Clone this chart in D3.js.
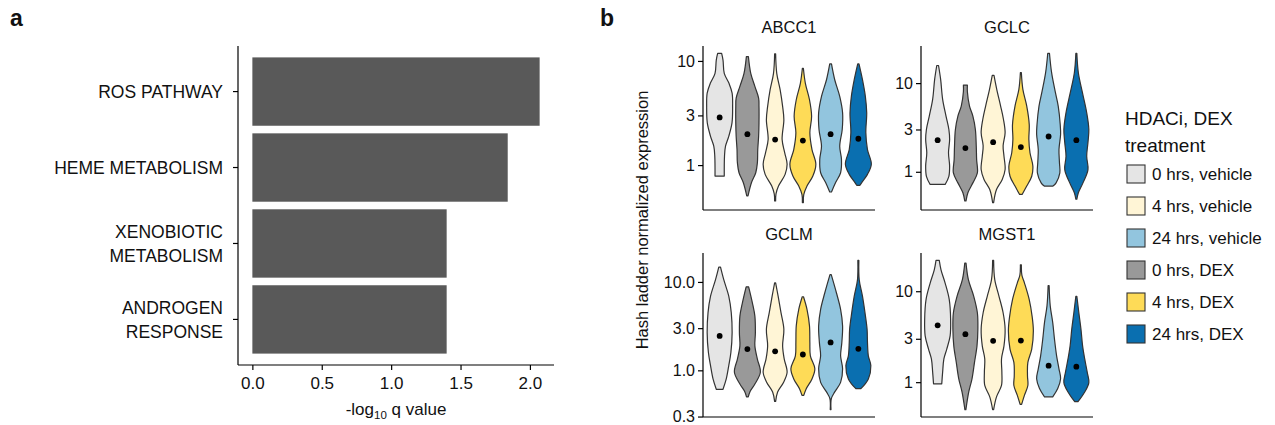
<!DOCTYPE html>
<html>
<head>
<meta charset="utf-8">
<script src="https://cdn.jsdelivr.net/npm/d3@7"></script>
<style>
  html, body { margin: 0; padding: 0; background: #fff; }
  text { font-family: "Liberation Sans", Arial, Helvetica, sans-serif; fill: #111; }
</style>
</head>
<body>
<script>
// ---------------- DATA ----------------
// Panel a
const pathwayLabels = [["ROS PATHWAY"], ["HEME METABOLISM"], ["XENOBIOTIC", "METABOLISM"], ["ANDROGEN", "RESPONSE"]];
const pathways = ["ROS PATHWAY", "HEME METABOLISM", "XENOBIOTIC METABOLISM", "ANDROGEN RESPONSE"];
const negLog10Q = [2.07, 1.84, 1.40, 1.40];
const xTicksA = [0, 0.5, 1.0, 1.5, 2.0];
const xTickLabelsA = ["0.0", "0.5", "1.0", "1.5", "2.0"];

// Panel b
const genes = ["ABCC1", "GCLC", "GCLM", "MGST1"];
const treatments = ["0 hrs, vehicle", "0 hrs, DEX", "4 hrs, vehicle", "4 hrs, DEX", "24 hrs, vehicle", "24 hrs, DEX"];
const treatmentColors = ["#e5e5e5", "#999999", "#fff5d6", "#fedb57", "#92c5de", "#0a6fb0"];
const legendOrder = ["0 hrs, vehicle", "4 hrs, vehicle", "24 hrs, vehicle", "0 hrs, DEX", "4 hrs, DEX", "24 hrs, DEX"];

// violin profiles: [expression value, relative half-width], top to bottom
const abcc1Violins = [
  [[11.8,0.16],[10.2,0.27],[7.6,0.37],[6.1,0.75],[4.9,1.0],[3.66,1.04],[2.54,0.99],[1.89,0.73],[1.52,0.47],[1.22,0.39],[0.785,0.37]],
  [[11.0,0.08],[7.6,0.27],[5.7,0.6],[4.4,0.9],[3.66,0.93],[2.54,0.93],[1.89,0.9],[1.41,0.83],[1.05,0.8],[0.845,0.67],[0.68,0.33],[0.506,0.05]],
  [[11.7,0.04],[7.6,0.13],[5.3,0.4],[3.66,0.6],[2.73,0.7],[1.76,0.56],[1.31,0.77],[1.02,0.96],[0.815,0.8],[0.63,0.27],[0.53,0.07],[0.453,0.04]],
  [[8.5,0.04],[6.1,0.2],[4.24,0.53],[2.94,0.7],[2.04,0.56],[1.41,0.73],[1.02,1.04],[0.785,0.8],[0.63,0.33],[0.52,0.07],[0.437,0.04]],
  [[9.36,0.07],[6.6,0.33],[4.57,0.73],[3.17,0.96],[2.2,0.93],[1.52,0.73],[1.13,0.87],[0.845,0.8],[0.68,0.4],[0.552,0.07]],
  [[9.36,0.05],[6.6,0.33],[4.57,0.56],[3.17,0.67],[2.04,0.6],[1.41,0.73],[1.02,1.04],[0.815,0.73],[0.68,0.27],[0.64,0.13]]
];
const abcc1Medians = [2.87, 1.98, 1.76, 1.72, 1.98, 1.79];

const gclcViolins = [
  [[15.8,0.07],[11,0.24],[6.55,0.4],[4.25,0.67],[3.0,0.9],[2.31,0.96],[1.64,0.87],[1.16,0.96],[0.89,0.9],[0.72,0.6]],
  [[9.5,0.16],[8.0,0.16],[5.51,0.33],[4.25,0.6],[3.0,0.8],[1.97,0.87],[1.38,0.9],[0.97,0.96],[0.75,0.6],[0.58,0.2],[0.47,0.05]],
  [[12.2,0.07],[8.5,0.29],[5.51,0.6],[3.89,0.83],[2.75,0.96],[1.97,0.8],[1.5,0.87],[1.06,0.96],[0.82,0.73],[0.63,0.27],[0.45,0.04]],
  [[13.1,0.04],[8.5,0.16],[5.51,0.47],[3.41,0.67],[2.31,0.64],[1.64,0.73],[1.16,0.96],[0.89,0.87],[0.69,0.47],[0.555,0.1]],
  [[21.6,0.07],[13.1,0.24],[8.0,0.53],[5.51,0.77],[3.41,0.93],[2.65,0.96],[1.78,0.83],[1.26,0.87],[0.97,0.9],[0.75,0.6],[0.69,0.35]],
  [[21.6,0.04],[13.1,0.16],[8.0,0.47],[4.63,0.83],[3.0,1.0],[2.14,0.93],[1.5,0.83],[1.06,0.93],[0.75,0.53],[0.58,0.16],[0.49,0.04]]
];
const gclcMedians = [2.27, 1.85, 2.16, 1.90, 2.50, 2.27];

const gclmViolins = [
  [[14.7,0.07],[10.6,0.33],[6.9,0.73],[4.49,0.93],[2.67,1.0],[1.59,0.9],[1.13,0.73],[0.8,0.53],[0.61,0.27]],
  [[8.8,0.1],[5.8,0.4],[4.1,0.6],[2.67,0.64],[1.89,0.6],[1.34,0.8],[0.95,1.04],[0.70,0.6],[0.57,0.2],[0.5,0.07]],
  [[9.75,0.04],[6.9,0.24],[4.49,0.47],[2.91,0.7],[1.89,0.6],[1.34,0.73],[0.95,0.96],[0.73,0.67],[0.57,0.2],[0.445,0.04]],
  [[6.8,0.05],[4.9,0.33],[3.18,0.53],[2.07,0.56],[1.46,0.6],[1.04,0.96],[0.8,0.73],[0.62,0.27],[0.52,0.07]],
  [[12.1,0.05],[7.5,0.47],[4.9,0.8],[3.18,0.96],[2.07,0.9],[1.46,0.8],[1.04,0.96],[0.73,0.8],[0.57,0.33],[0.48,0.06],[0.36,0.03]],
  [[17.5,0.04],[10.6,0.07],[6.9,0.33],[4.49,0.53],[2.91,0.7],[2.07,0.73],[1.46,0.8],[1.13,1.0],[0.8,0.8],[0.62,0.2]]
];
const gclmMedians = [2.45, 1.74, 1.64, 1.51, 2.07, 1.75];

const mgst1Violins = [
  [[21.8,0.13],[17.2,0.27],[12.3,0.6],[8.1,0.93],[4.9,1.04],[3.23,1.0],[2.31,0.73],[1.8,0.5],[1.29,0.4],[0.96,0.33]],
  [[20.4,0.05],[13.4,0.24],[8.8,0.67],[5.8,0.96],[3.82,1.0],[2.51,0.93],[1.65,0.73],[1.09,0.53],[0.78,0.27],[0.5,0.04]],
  [[21.8,0.04],[13.4,0.13],[8.8,0.47],[5.8,0.8],[3.82,0.96],[2.51,0.87],[1.8,0.67],[1.29,0.7],[0.92,0.67],[0.69,0.27],[0.5,0.04]],
  [[19.5,0.04],[15.0,0.08],[12.3,0.29],[8.1,0.67],[5.3,0.9],[3.66,1.0],[2.31,0.87],[1.65,0.56],[1.18,0.53],[0.92,0.56],[0.72,0.29],[0.57,0.06]],
  [[11.5,0.04],[6.9,0.13],[4.52,0.33],[2.97,0.47],[1.95,0.64],[1.4,0.83],[1.09,0.96],[0.85,0.73],[0.69,0.33]],
  [[8.8,0.04],[5.8,0.2],[3.82,0.37],[2.51,0.5],[1.8,0.67],[1.29,0.87],[0.99,1.0],[0.78,0.67],[0.61,0.13]]
];
const mgst1Medians = [4.22, 3.37, 2.85, 2.87, 1.52, 1.48];

const yTicksDefault = [1, 3, 10];
const yTickLabelsDefault = ["1", "3", "10"];
const yTicksGclm = [0.3, 1, 3, 10];
const yTickLabelsGclm = ["0.3", "1.0", "3.0", "10.0"];

// ---------------- DRAW ----------------
const W = 1275, H = 425;
const svg = d3.select("body").append("svg").attr("width", W).attr("height", H);

// Panel labels
svg.append("text").attr("x", 10).attr("y", 26).style("font-size", "23px").style("font-weight", "bold").text("a");
svg.append("text").attr("x", 600).attr("y", 26).style("font-size", "23px").style("font-weight", "bold").text("b");

// ---- Panel a ----
const aLeft = 238, aRight = 554, aTop = 46, aBottom = 365;
const maxQ = d3.max(negLog10Q);
const xA = d3.scaleLinear().domain([-0.05 * maxQ, 1.05 * maxQ]).range([aLeft, aRight]);
const yA = d3.scaleBand().domain(pathways).range([aTop, aBottom]).paddingInner(0.1).paddingOuter(0.15);

const gA = svg.append("g");
gA.selectAll("rect.bar").data(pathways).enter().append("rect")
  .attr("class", "bar")
  .attr("x", xA(0))
  .attr("y", d => yA(d))
  .attr("width", (d, i) => xA(negLog10Q[i]) - xA(0))
  .attr("height", yA.bandwidth())
  .attr("fill", "#595959");

// axes
const xAxisA = d3.axisBottom(xA).tickValues(xTicksA).tickFormat((d, i) => xTickLabelsA[i]).tickSize(5).tickSizeOuter(0);
const gxA = gA.append("g").attr("transform", `translate(0,${aBottom})`).call(xAxisA);
gxA.select(".domain").attr("stroke", "#000").attr("stroke-width", 1.2).attr("d", `M${aLeft},0H${aRight}`);
gxA.selectAll(".tick line").attr("stroke", "#000").attr("stroke-width", 1.2);
gxA.selectAll(".tick text").attr("dy", null).attr("y", 24).style("font-size", "17px").attr("fill", "#111");

const yAxisA = d3.axisLeft(yA).tickSize(5).tickSizeOuter(0).tickFormat("");
const gyA = gA.append("g").attr("transform", `translate(${aLeft},0)`).call(yAxisA);
gyA.select(".domain").attr("stroke", "#000").attr("stroke-width", 1.2).attr("d", `M0,${aTop}V${aBottom}`);
gyA.selectAll(".tick line").attr("stroke", "#000").attr("stroke-width", 1.2);

// category labels (multi-line)
pathways.forEach((p, i) => {
  const lines = pathwayLabels[i];
  const cy = yA(p) + yA.bandwidth() / 2;
  const lh = 24;
  const t = gA.append("text").attr("text-anchor", "end").style("font-size", "17.5px");
  lines.forEach((ln, j) => {
    t.append("tspan").attr("x", aLeft - 15)
      .attr("y", cy + (j - (lines.length - 1) / 2) * lh)
      .attr("dy", "0.36em").text(ln);
  });
});

// axis title
const tA = gA.append("text").attr("x", (aLeft + aRight) / 2).attr("y", 415).attr("text-anchor", "middle").style("font-size", "17px");
tA.append("tspan").text("-log");
tA.append("tspan").attr("dy", 4).style("font-size", "11.5px").text("10");
tA.append("tspan").attr("dy", -4).text(" q value");

// ---- Panel b ----
const violinSets = [abcc1Violins, gclcViolins, gclmViolins, mgst1Violins];
const medianSets = [abcc1Medians, gclcMedians, gclmMedians, mgst1Medians];
const panelOrigins = [[703, 46], [921, 46], [703, 253], [921, 253]];
const pW = 172, pH = 164;

const sideLine = d3.line().curve(d3.curveCatmullRom.alpha(0.5));

genes.forEach((gene, gi) => {
  const [px, py] = panelOrigins[gi];
  const violins = violinSets[gi];
  const medians = medianSets[gi];
  const g = svg.append("g");

  // y domain with 5% expansion in log space
  const allVals = violins.flat().map(d => d[0]);
  const lo = Math.log10(d3.min(allVals)), hi = Math.log10(d3.max(allVals));
  const ex = (hi - lo) * 0.05;
  const y = d3.scaleLog().domain([Math.pow(10, lo - ex), Math.pow(10, hi + ex)]).range([py + pH, py]);
  const x = d3.scaleBand().domain(treatments).range([px, px + pW]).paddingInner(0).paddingOuter(0.1);
  const halfMax = 0.9 * x.step() / 2;

  // violins
  violins.forEach((prof, vi) => {
    const cx = x(treatments[vi]) + x.bandwidth() / 2;
    const right = prof.map(d => [cx + d[1] * halfMax, y(d[0])]);
    const left = prof.map(d => [cx - d[1] * halfMax, y(d[0])]).reverse();
    const dPath = sideLine(right) + sideLine(left).replace(/^M/, "L") + "Z";
    g.append("path").attr("d", dPath)
      .attr("fill", treatmentColors[vi])
      .attr("stroke", "#333").attr("stroke-width", 1.2).attr("stroke-linejoin", "round");
  });
  // medians
  g.selectAll("circle.med").data(medians).enter().append("circle")
    .attr("class", "med")
    .attr("cx", (d, i) => x(treatments[i]) + x.bandwidth() / 2)
    .attr("cy", d => y(d))
    .attr("r", 2.9).attr("fill", "#000");

  // axes
  const ticks = gene === "GCLM" ? yTicksGclm : yTicksDefault;
  const tickLabels = gene === "GCLM" ? yTickLabelsGclm : yTickLabelsDefault;
  const yAxis = d3.axisLeft(y).tickValues(ticks).tickFormat((d, i) => tickLabels[i]).tickSize(5).tickSizeOuter(0);
  const gy = g.append("g").attr("transform", `translate(${px},0)`).call(yAxis);
  gy.select(".domain").attr("stroke", "#000").attr("stroke-width", 1.2).attr("d", `M0,${py}V${py + pH}`);
  gy.selectAll(".tick line").attr("stroke", "#000").attr("stroke-width", 1.2);
  gy.selectAll(".tick text").attr("x", -8).style("font-size", "16px").attr("fill", "#111");

  g.append("line").attr("x1", px).attr("x2", px + pW).attr("y1", py + pH).attr("y2", py + pH)
    .attr("stroke", "#000").attr("stroke-width", 1.2);

  // strip title
  g.append("text").attr("x", px + pW / 2).attr("y", py - 13).attr("text-anchor", "middle")
    .style("font-size", "16.5px").text(gene);
});

// y axis title
svg.append("text").attr("transform", "translate(648,220) rotate(-90)").attr("text-anchor", "middle")
  .style("font-size", "16.5px").text("Hash ladder normalized expression");

// legend
const lg = svg.append("g");
lg.append("text").attr("x", 1125).attr("y", 125).style("font-size", "19px").text("HDACi, DEX");
lg.append("text").attr("x", 1125).attr("y", 152).style("font-size", "19px").text("treatment");
legendOrder.forEach((lab, i) => {
  const ti = treatments.indexOf(lab);
  const cy = 174 + i * 32;
  lg.append("rect").attr("x", 1127).attr("y", cy - 9).attr("width", 18).attr("height", 18)
    .attr("fill", treatmentColors[ti]).attr("stroke", "#333").attr("stroke-width", 1.1);
  lg.append("text").attr("x", 1152).attr("y", cy).attr("dy", "0.36em").style("font-size", "17px").text(lab);
});
</script>
</body>
</html>
